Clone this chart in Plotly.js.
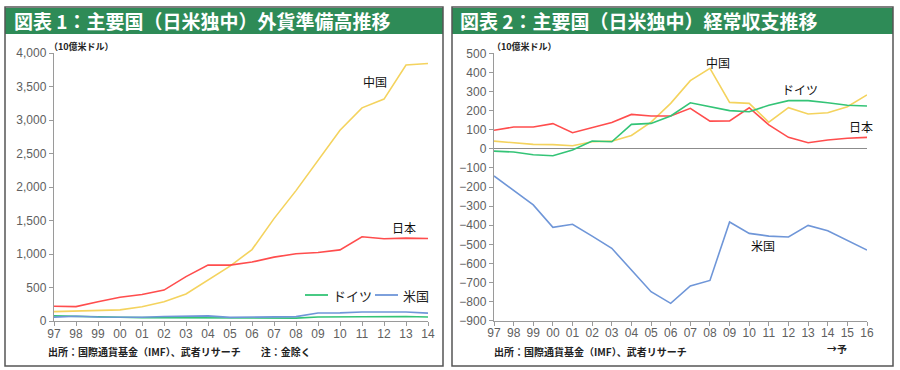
<!DOCTYPE html>
<html><head><meta charset="utf-8">
<script src="https://cdn.plot.ly/plotly-3.0.1.min.js"></script>
<style>html,body{margin:0;padding:0;background:#fff}#c{width:900px;height:370px}</style>
</head><body><div id="c"></div>
<script>
// ---- Chart 1: FX reserves (10億米ドル) ----
const years1 = ['97','98','99','00','01','02','03','04','05','06','07','08','09','10','11','12','13','14'];
const china1   = [140,145,155,166,212,286,403,610,819,1066,1528,1946,2399,2847,3181,3312,3821,3843];
const japan1   = [220,215,287,355,395,461,663,834,834,880,953,1004,1022,1061,1258,1227,1237,1231];
const germany1 = [77,74,61,57,51,51,51,48,45,42,44,43,59,62,67,68,67,60];
const us1      = [58,70,60,56,57,68,74,76,54,55,59,66,120,121,135,139,135,118];

// ---- Chart 2: current account (10億米ドル) ----
const years2 = ['97','98','99','00','01','02','03','04','05','06','07','08','09','10','11','12','13','14','15','16'];
const china2   = [40,32,23,22,16,37,40,70,140,238,357,421,243,238,139,215,182,189,220,282];
const japan2   = [97,114,114,132,84,113,138,180,172,172,212,145,146,215,125,60,32,46,55,60];
const germany2 = [-12,-17,-31,-36,-6,41,37,128,133,172,241,220,200,194,228,252,252,241,228,224];
const us2      = [-142,-216,-294,-411,-395,-457,-521,-635,-748,-809,-718,-689,-383,-443,-457,-462,-401,-429,-478,-530];

const C = {china:'#f4d35e', japan:'#ff4d4d', germany:'#34c477', us:'#6f96d8'};
const JP = '"Noto Sans CJK JP", sans-serif';
const LAT = '"Liberation Sans", "Noto Sans CJK JP", sans-serif';
const W = 900, H = 370;
const px = v => v / W, py = v => 1 - v / H;

function ln(x, y, name, color, xa, ya) {
  return {x, y, name, type:'scatter', mode:'lines', xaxis:xa, yaxis:ya,
    line:{color, width:1.6}, showlegend:false, hoverinfo:'skip'};
}

const data = [
  ln(years1, china1, '中国', C.china, 'x', 'y'),
  ln(years1, japan1, '日本', C.japan, 'x', 'y'),
  ln(years1, germany1, 'ドイツ', C.germany, 'x', 'y'),
  ln(years1, us1, '米国', C.us, 'x', 'y'),
  ln(years2, china2, '中国', C.china, 'x2', 'y2'),
  ln(years2, japan2, '日本', C.japan, 'x2', 'y2'),
  ln(years2, germany2, 'ドイツ', C.germany, 'x2', 'y2'),
  ln(years2, us2, '米国', C.us, 'x2', 'y2'),
];

const axisBase = {
  showgrid:false, showline:true, linecolor:'#9a9a9a', linewidth:1.2,
  ticks:'outside', tickcolor:'#9a9a9a', ticklen:4,
  tickfont:{family:LAT, size:12, color:'#606060'}, fixedrange:true
};
const xBase = Object.assign({}, axisBase, {type:'category', ticklen:4, ticklabelstandoff:-3});

// manual legend (chart 1)
const legendItems = [
  {name:'ドイツ', color:C.germany, x0:305, x1:328, tx:331},
  {name:'米国', color:C.us, x0:375, x1:398, tx:401},
];
const legY = 295;

const shapes = [
  {type:'rect', xref:'paper', yref:'paper', x0:px(5), x1:px(443), y0:py(366), y1:py(7), line:{color:'#555', width:1.5}, fillcolor:'rgba(0,0,0,0)'},
  {type:'rect', xref:'paper', yref:'paper', x0:px(452), x1:px(893), y0:py(366), y1:py(7), line:{color:'#555', width:1.5}, fillcolor:'rgba(0,0,0,0)'},
  {type:'rect', xref:'paper', yref:'paper', x0:px(5), x1:px(443), y0:py(34), y1:py(8), line:{width:0}, fillcolor:'#2e8b57', layer:'below'},
  {type:'rect', xref:'paper', yref:'paper', x0:px(452), x1:px(893), y0:py(34), y1:py(8), line:{width:0}, fillcolor:'#2e8b57', layer:'below'},
];
const annotations = [
  {xref:'paper', yref:'paper', x:px(12), y:py(21), xanchor:'left', yanchor:'middle', showarrow:false,
    text:'<b>図表 1：主要国（日米独中）外貨準備高推移</b>', font:{family:JP, size:19, color:'#fff'}},
  {xref:'paper', yref:'paper', x:px(458), y:py(21), xanchor:'left', yanchor:'middle', showarrow:false,
    text:'<b>図表 2：主要国（日米独中）経常収支推移</b>', font:{family:JP, size:19, color:'#fff'}},
  {xref:'paper', yref:'paper', x:px(47), y:py(46), xanchor:'left', yanchor:'middle', showarrow:false,
    text:'<b>（10億米ドル）</b>', font:{family:JP, size:9, color:'#222'}},
  {xref:'paper', yref:'paper', x:px(490), y:py(46), xanchor:'left', yanchor:'middle', showarrow:false,
    text:'<b>（10億米ドル）</b>', font:{family:JP, size:9, color:'#222'}},
  {xref:'paper', yref:'paper', x:px(46), y:py(351), xanchor:'left', yanchor:'middle', showarrow:false,
    text:'<b>出所：国際通貨基金（IMF）、武者リサーチ　　注：金除く</b>', font:{family:JP, size:10, color:'#222'}},
  {xref:'paper', yref:'paper', x:px(492), y:py(351), xanchor:'left', yanchor:'middle', showarrow:false,
    text:'<b>出所：国際通貨基金（IMF）、武者リサーチ</b>', font:{family:JP, size:10, color:'#222'}},
  {xref:'paper', yref:'paper', x:px(837), y:py(348), xanchor:'center', yanchor:'middle', showarrow:false,
    text:'<b>→予</b>', font:{family:JP, size:10, color:'#222'}},
  {xref:'x', yref:'y', x:14.6, y:3570, showarrow:false, text:'中国', font:{family:JP, size:12, color:'#111'}},
  {xref:'x', yref:'y', x:15.9, y:1390, showarrow:false, text:'日本', font:{family:JP, size:12, color:'#111'}},
  {xref:'x2', yref:'y2', x:11.4, y:452, showarrow:false, text:'中国', font:{family:JP, size:12, color:'#111'}},
  {xref:'x2', yref:'y2', x:15.6, y:312, showarrow:false, text:'ドイツ', font:{family:JP, size:12, color:'#111'}},
  {xref:'x2', yref:'y2', x:18.7, y:118, showarrow:false, text:'日本', font:{family:JP, size:12, color:'#111'}},
  {xref:'x2', yref:'y2', x:13.7, y:-508, showarrow:false, text:'米国', font:{family:JP, size:12, color:'#111'}},
];
legendItems.forEach(it => {
  shapes.push({type:'line', xref:'paper', yref:'paper', x0:px(it.x0), x1:px(it.x1), y0:py(legY), y1:py(legY), line:{color:it.color, width:1.8}});
  annotations.push({xref:'paper', yref:'paper', x:px(it.tx), y:py(legY), xanchor:'left', yanchor:'middle', showarrow:false,
    text:it.name, font:{family:JP, size:13, color:'#222'}});
});

const layout = {
  width:W, height:H, margin:{l:0,r:0,t:0,b:0},
  paper_bgcolor:'#fff', plot_bgcolor:'#fff',
  font:{family:LAT}, showlegend:false,
  xaxis:Object.assign({}, xBase, {domain:[px(54), px(428)], range:[0, years1.length-1], anchor:'y'}),
  yaxis:Object.assign({}, axisBase, {domain:[py(321), py(53)], range:[0,4000], dtick:500, tickformat:',d', anchor:'x', zeroline:false}),
  xaxis2:Object.assign({}, xBase, {domain:[px(494), px(867)], range:[0, years2.length-1], anchor:'y2'}),
  yaxis2:Object.assign({}, axisBase, {domain:[py(320.7), py(53.3)], range:[-900,500], dtick:100, anchor:'x2',
    zeroline:true, zerolinecolor:'#8c8c8c', zerolinewidth:1.3}),
  shapes, annotations
};

Plotly.newPlot('c', data, layout, {staticPlot:true, displayModeBar:false});
</script></body></html>
